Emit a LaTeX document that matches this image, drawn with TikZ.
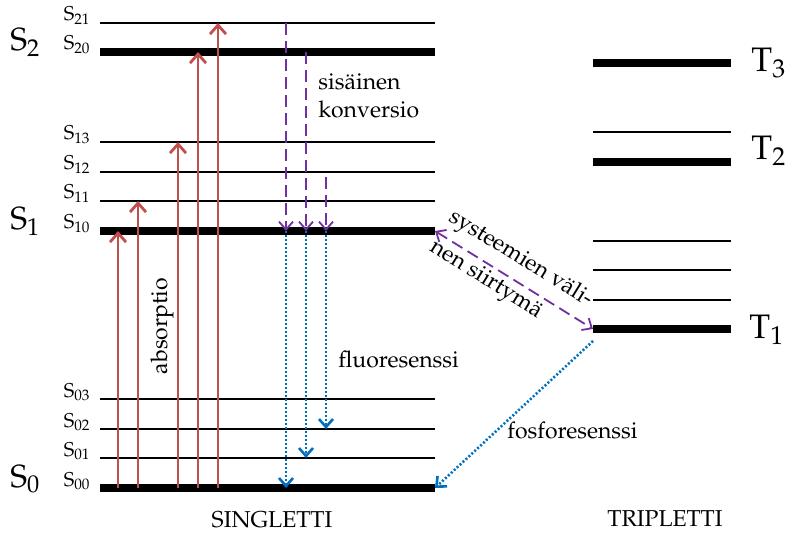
\documentclass[tikz,border=0pt]{standalone}
\usepackage[T1]{fontenc}
\usepackage{mathpazo}
\usepackage{tikz}
\usetikzlibrary{
  arrows.meta,
  calc
}
\definecolor{absred}{HTML}{C0504D}
\definecolor{icpurple}{HTML}{7030A0}
\definecolor{fluoblue}{HTML}{0070C0}
\tikzset{
  thinlevel/.style={line width=0.8pt, black},
  thicklevel/.style={line width=4pt, black},
  sublabel/.style={
    inner sep=0pt, anchor=base east,
    font=\fontsize{10}{12}\selectfont
  },
  statelabel/.style={
    inner sep=0pt, anchor=base west,
    font=\fontsize{16}{19}\selectfont
  },
  tlabel/.style={
    inner sep=0pt, anchor=base west,
    font=\fontsize{17}{20}\selectfont
  },
  textlabel/.style={
    inner sep=0pt, text=black, font=\fontsize{11.5}{14}\selectfont
  },
  absarrow/.style={
    -{Straight Barb[length=4.5pt,width=8pt]}, line width=1.4pt, color=absred
  },
  icarrow/.style={
    -{Straight Barb[length=4pt,width=7pt]}, line width=0.9pt, color=icpurple,
    dash pattern=on 6pt off 3pt
  },
  fluoarrow/.style={
    -{Straight Barb[length=4pt,width=7pt]}, line width=1.3pt, color=fluoblue,
    dash pattern=on 1pt off 1pt
  },
}

\begin{document}
\begin{tikzpicture}[x=0.5pt,y=-0.5pt]
  \useasboundingbox (0,0) rectangle (787,534);

  % singlet levels
  \coordinate (sright) at (435,0);
  \foreach \n/\y/\lv in {21/23/thinlevel,20/52/thicklevel,13/142/thinlevel,
      12/172/thinlevel,11/201/thinlevel,10/231/thicklevel,03/399/thinlevel,
      02/429/thinlevel,01/458/thinlevel,00/488/thicklevel}{
    \coordinate (s\n) at (100,\y);
    \draw[\lv] (s\n) -- (sright |- s\n);
    \node[sublabel] (l\n) at (91,\y-2) {S$_{\n}$};
  }
  \node[statelabel] (S2) at (10,51) {S$_2$};
  \node[statelabel] (S1) at (10,230) {S$_1$};
  \node[statelabel] (S0) at (10,487) {S$_0$};

  % triplet levels
  \coordinate (tright) at (731,0);
  \foreach \n/\y/\lv in {3/63/thicklevel,22/132/thinlevel,2/162/thicklevel,
      13/241/thinlevel,12/270/thinlevel,11/300/thinlevel,1/329/thicklevel}{
    \coordinate (t\n) at (593,\y);
    \draw[\lv] (t\n) -- (tright |- t\n);
  }
  \node[tlabel] (T3) at (751,72) {T$_3$};
  \node[tlabel] (T2) at (751,160) {T$_2$};
  \node[tlabel] (T1) at (749,338) {T$_1$};

  % absorption
  \foreach \x/\to in {118/s10,138/s11,178/s13,198/s20,218/s21}{
    \coordinate (a\x) at (\x,0);
    \draw[absarrow] (a\x |- s00) -- (a\x |- \to);
  }
  \node[textlabel, rotate=90] (abs) at (162,326) {absorptio};

  % internal conversion and fluorescence
  \coordinate (c1) at (286,0);
  \coordinate (c2) at (306,0);
  \coordinate (c3) at (326,0);
  \draw[icarrow] (c1 |- s21) -- (c1 |- s10);
  \draw[icarrow] (c2 |- s20) -- (c2 |- s10);
  \draw[icarrow] ([yshift=-2.5pt]c3 |- s12) -- (c3 |- s10);
  \draw[fluoarrow] (c1 |- s10) -- (c1 |- s00);
  \draw[fluoarrow] (c2 |- s10) -- (c2 |- s01);
  \draw[fluoarrow] (c3 |- s10) -- (c3 |- s02);
  \node[textlabel, anchor=north west, align=left] (ic) at (318,73)
    {sis\"ainen\\konversio};
  \node[textlabel, anchor=base west] (fluo) at (338,367) {fluoresenssi};

  % intersystem crossing and phosphorescence
  \draw[icarrow, {Straight Barb[length=4pt,width=7pt]}-{Straight Barb[length=4pt,width=7pt]}]
    (sright |- s10) -- (t1)
    node[textlabel, font=\fontsize{11.5}{18}\selectfont, pos=0.47, sloped,
      align=left, yshift=1.5pt] (isc)
      {systeemien v\"ali-\\nen siirtym\"a};
  \draw[fluoarrow] ([yshift=-6pt]t1) -- (sright |- s00);
  \node[textlabel, anchor=base west] (phos) at (507,438) {fosforesenssi};

  \node[textlabel, anchor=base] (sing) at (272,527) {SINGLETTI};
  \node[textlabel, anchor=base] (trip) at (665,526) {TRIPLETTI};
\end{tikzpicture}
\end{document}
